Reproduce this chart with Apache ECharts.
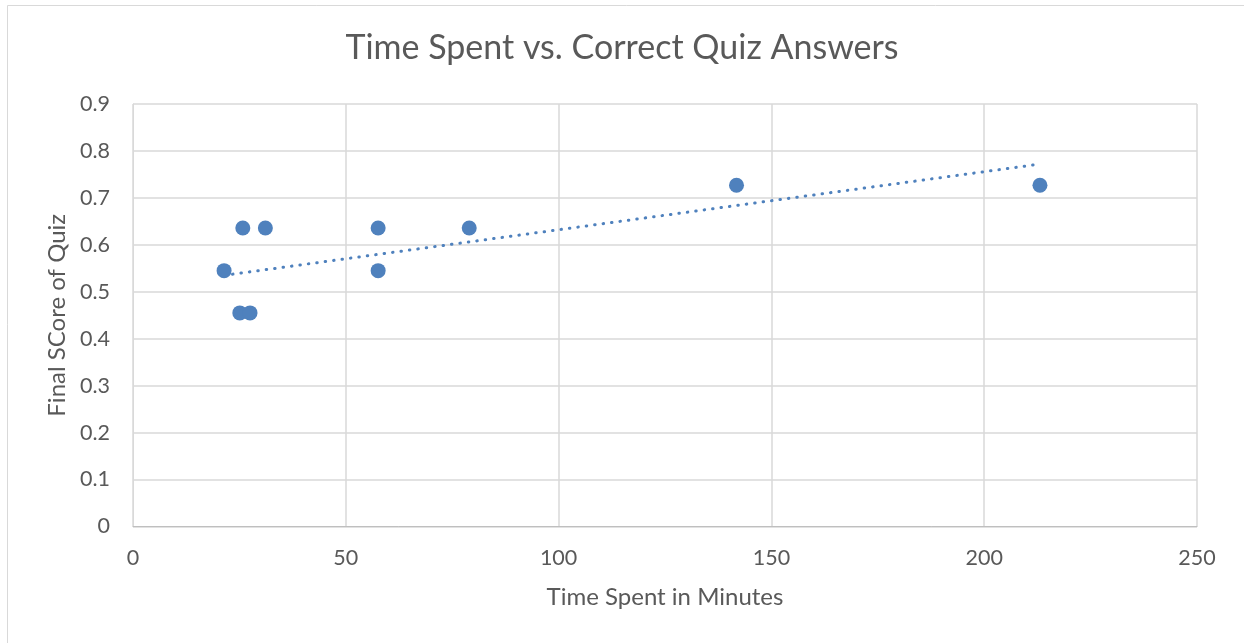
<!DOCTYPE html>
<html>
<head>
<meta charset="utf-8">
<script src="https://cdn.jsdelivr.net/npm/echarts@6/dist/echarts.min.js"></script>
<style>html,body{margin:0;padding:0;background:#fff;}#c{width:1244px;height:643px;}</style>
</head>
<body>
<div id="c"></div>
<script>
var timeMinutes = [21.4, 25.1, 27.5, 25.8, 31.1, 57.6, 57.6, 79.0, 141.8, 213.1];
var finalScore = [0.545, 0.455, 0.455, 0.636, 0.636, 0.636, 0.545, 0.636, 0.727, 0.727];
var trendX = [21.4, 211.5];
var trendY = [0.535, 0.770];
var titleText = 'Time Spent vs. Correct Quiz Answers';
var xName = 'Time Spent in Minutes';
var yName = 'Final SCore of Quiz';

var pts = timeMinutes.map(function (x, i) { return [x, finalScore[i]]; });
var trend = trendX.map(function (x, i) { return [x, trendY[i]]; });
var FONT = 'Lato';
var TXT = '#595959';

var chart = echarts.init(document.getElementById('c'), null, {renderer: 'canvas'});
chart.setOption({
  animation: false,
  backgroundColor: '#fff',
  graphic: [{
    type: 'rect', silent: true, z: -10,
    shape: {x: 7.5, y: 5.5, width: 1260, height: 660},
    style: {fill: 'none', stroke: '#D9D9D9', lineWidth: 1}
  }],
  title: {
    text: titleText, left: 'center', top: 26,
    textStyle: {fontFamily: FONT, fontSize: 34, fontWeight: 'normal', color: TXT}
  },
  grid: {left: 133, right: 47, top: 104, bottom: 116.5, containLabel: false},
  xAxis: {
    type: 'value', min: 0, max: 250, interval: 50,
    name: xName, nameLocation: 'middle', nameGap: 59,
    nameTextStyle: {fontFamily: FONT, fontSize: 24, color: TXT},
    axisLine: {show: true, lineStyle: {color: '#BFBFBF', width: 1}},
    axisTick: {show: false},
    axisLabel: {fontFamily: FONT, fontSize: 21.5, color: TXT, margin: 20.5},
    splitLine: {show: true, lineStyle: {color: '#D9D9D9', width: 1.5}}
  },
  yAxis: {
    type: 'value', min: 0, max: 0.9, interval: 0.1,
    name: yName, nameLocation: 'middle', nameGap: 61, nameRotate: 90,
    nameTextStyle: {fontFamily: FONT, fontSize: 24, color: TXT},
    axisLine: {show: true, lineStyle: {color: '#D9D9D9', width: 1}},
    axisTick: {show: false},
    axisLabel: {fontFamily: FONT, fontSize: 21.5, color: TXT, margin: 23,
      formatter: function (v) { return +v.toFixed(1) + ''; }},
    splitLine: {show: true, lineStyle: {color: '#D9D9D9', width: 1.5}}
  },
  series: [{
    type: 'line', data: trend, symbol: 'none', silent: true, z: 3,
    lineStyle: {color: '#4F81BD', width: 3, type: [0.5, 8], cap: 'round'}
  }, {
    type: 'scatter', data: pts, symbolSize: 15, z: 4,
    itemStyle: {color: '#4F81BD', opacity: 1}
  }]
});
</script>
</body>
</html>
